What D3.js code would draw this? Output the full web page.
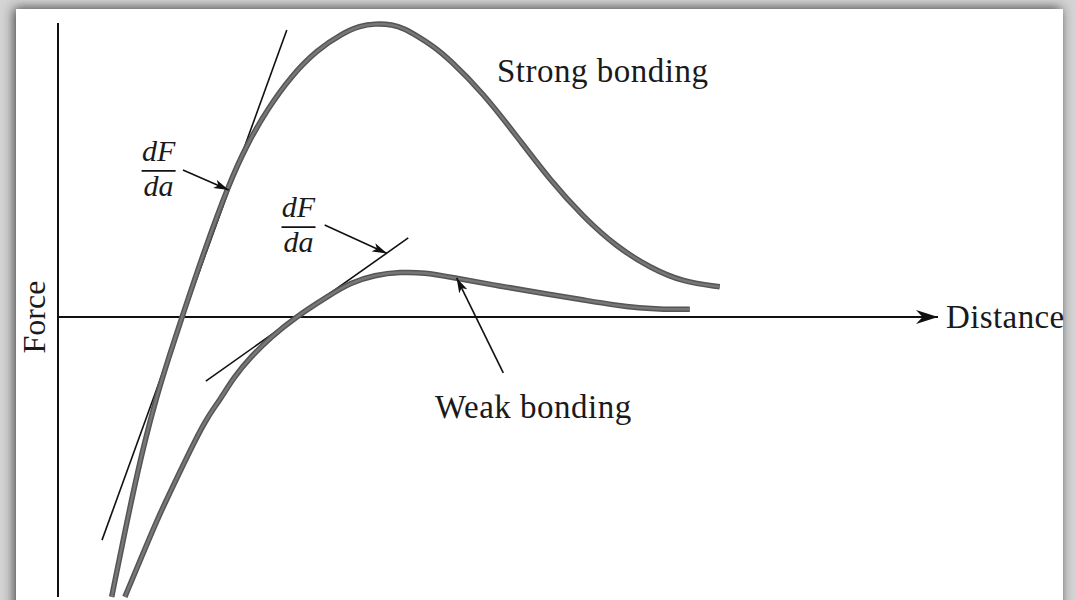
<!DOCTYPE html>
<html>
<head>
<meta charset="utf-8">
<script src="https://cdn.jsdelivr.net/npm/d3@7"></script>
<style>
  html, body { margin: 0; padding: 0; background: #cfcfcf; }
  svg { display: block; }
  text { font-family: "Liberation Serif", "Times New Roman", serif; fill: #1a1a1a; }
</style>
</head>
<body>
<svg id="chart"></svg>
<script>
// Force vs. distance curves (x = distance, y = force, arbitrary units)
const strongBonding = [
  [6.1, -95.2], [8.4, -61.2], [9.9, -41.8], [11.1, -28.2], [12.6, -13.6],
  [14.1, 0], [16.6, 22.4], [19.5, 45.9], [21.5, 58.8], [23.8, 70.7],
  [26.4, 81.6], [29.4, 90.8], [32.4, 96.6], [34.3, 99.0], [36.0, 99.8],
  [38.0, 99.5], [39.4, 98.0], [40.8, 95.6], [42.6, 92.2], [44.5, 87.6],
  [48.3, 76.2], [52.2, 61.2], [55.9, 46.6], [59.7, 34.0], [63.5, 23.8],
  [67.3, 16.7], [71.0, 11.9], [75.2, 10.3]
];
const weakBonding = [
  [7.6, -95.2], [9.5, -81.6], [11.4, -68.0], [13.5, -54.8], [15.6, -41.8],
  [17.0, -34.0], [18.4, -28.2], [20.0, -20.4], [21.9, -13.6], [24.2, -6.8],
  [27.0, 0], [30.9, 7.5], [33.2, 11.6], [36.0, 14.3], [38.9, 15.3],
  [41.7, 15.1], [44.5, 13.6], [50.2, 10.5], [55.6, 7.8], [59.7, 5.8],
  [63.1, 4.1], [66.1, 3.0], [68.8, 2.6], [71.8, 2.6]
];
// tangent lines (slope dF/da at equilibrium)
const tangents = [
  [[5.0, -75.9], [26.0, 97.6]],
  [[16.8, -21.8], [39.8, 26.9]]
];
// annotation arrows: [from, to]
const arrows = [
  [[14.2, 50.0], [19.4, 43.2]],
  [[30.3, 31.3], [37.4, 21.6]],
  [[50.6, -19.0], [45.3, 13.3]]
];
const derivLabels = [[9.5, 53.1], [25.4, 34.0]];
const axisExtent = { xMax: 100, yMax: 100, yMin: -95.2 };

const width = 1075, height = 600;

const svg = d3.select("#chart").attr("width", width).attr("height", height);

// page frame with a soft shadow
const defs = svg.append("defs");
const shadow = defs.append("filter").attr("id", "shadow")
  .attr("x", "-5%").attr("y", "-5%").attr("width", "110%").attr("height", "110%");
shadow.append("feDropShadow").attr("dx", -2).attr("dy", -1)
  .attr("stdDeviation", 6).attr("flood-color", "#333").attr("flood-opacity", 0.9);

defs.append("marker").attr("id", "head")
  .attr("viewBox", "0 0 10 10").attr("refX", 10).attr("refY", 5)
  .attr("markerWidth", 15).attr("markerHeight", 10)
  .attr("markerUnits", "userSpaceOnUse")
  .attr("orient", "auto")
  .attr("preserveAspectRatio", "none")
  .append("path").attr("d", "M0,0.5 L10,5 L0,9.5 L2.5,5 Z").attr("fill", "#111");

defs.append("marker").attr("id", "bighead")
  .attr("viewBox", "0 0 10 10").attr("refX", 10).attr("refY", 5)
  .attr("markerWidth", 22).attr("markerHeight", 14)
  .attr("markerUnits", "userSpaceOnUse")
  .attr("orient", "auto")
  .attr("preserveAspectRatio", "none")
  .append("path").attr("d", "M0,0 L10,5 L0,10 L3,5 Z").attr("fill", "#111");

svg.append("rect").attr("width", width).attr("height", height).attr("fill", "#d4d4d4");
svg.append("rect").attr("x", 16).attr("y", 9).attr("width", 1047).attr("height", 620)
  .attr("fill", "#fff").attr("filter", "url(#shadow)");

const x = d3.scaleLinear().domain([0, 100]).range([58, 938]);
const y = d3.scaleLinear().domain([-100, 100]).range([611, 23]);

// axes
svg.append("line")
  .attr("x1", x(0)).attr("x2", x(0))
  .attr("y1", y(axisExtent.yMax)).attr("y2", y(axisExtent.yMin))
  .attr("stroke", "#111").attr("stroke-width", 2);
svg.append("line")
  .attr("x1", x(0)).attr("x2", x(axisExtent.xMax))
  .attr("y1", y(0)).attr("y2", y(0))
  .attr("stroke", "#111").attr("stroke-width", 2)
  .attr("marker-end", "url(#bighead)");

svg.append("text")
  .attr("x", x(axisExtent.xMax) + 8).attr("y", y(0) + 11)
  .attr("font-size", 33).attr("letter-spacing", 0.4).text("Distance");
svg.append("text")
  .attr("transform", `translate(45,${y(0)}) rotate(-90)`)
  .attr("text-anchor", "middle")
  .attr("font-size", 32).text("Force");

// tangent lines
svg.selectAll(".tangent").data(tangents).enter().append("line")
  .attr("class", "tangent")
  .attr("x1", (d) => x(d[0][0])).attr("y1", (d) => y(d[0][1]))
  .attr("x2", (d) => x(d[1][0])).attr("y2", (d) => y(d[1][1]))
  .attr("stroke", "#111").attr("stroke-width", 1.6);

// curves
const line = d3.line()
  .x((d) => x(d[0]))
  .y((d) => y(d[1]))
  .curve(d3.curveBasis);

[strongBonding, weakBonding].forEach((pts) => {
  svg.append("path").datum(pts).attr("d", line)
    .attr("fill", "none").attr("stroke", "#555")
    .attr("stroke-width", 5.5);
  svg.append("path").datum(pts).attr("d", line)
    .attr("fill", "none").attr("stroke", "#777")
    .attr("stroke-width", 2.5);
});

// annotation arrows
svg.selectAll(".arrow").data(arrows).enter().append("line")
  .attr("class", "arrow")
  .attr("x1", (d) => x(d[0][0])).attr("y1", (d) => y(d[0][1]))
  .attr("x2", (d) => x(d[1][0])).attr("y2", (d) => y(d[1][1]))
  .attr("stroke", "#111").attr("stroke-width", 1.6)
  .attr("marker-end", "url(#head)");

// dF/da labels
derivLabels.forEach((p) => {
  const g = svg.append("g").attr("transform", `translate(${x(p[0])},${y(p[1])})`);
  g.append("text").attr("x", 17).attr("y", 0).attr("text-anchor", "middle")
    .attr("font-size", 30).attr("font-style", "italic").text("dF");
  g.append("line").attr("x1", 0).attr("x2", 34).attr("y1", 10).attr("y2", 10)
    .attr("stroke", "#111").attr("stroke-width", 1.8);
  g.append("text").attr("x", 17).attr("y", 35).attr("text-anchor", "middle")
    .attr("font-size", 30).attr("font-style", "italic").text("da");
});

svg.append("text").attr("x", 497).attr("y", 82)
  .attr("font-size", 33).attr("letter-spacing", 0.5).text("Strong bonding");
svg.append("text").attr("x", 435).attr("y", 418)
  .attr("font-size", 33).attr("letter-spacing", 0.5).text("Weak bonding");
</script>
</body>
</html>
